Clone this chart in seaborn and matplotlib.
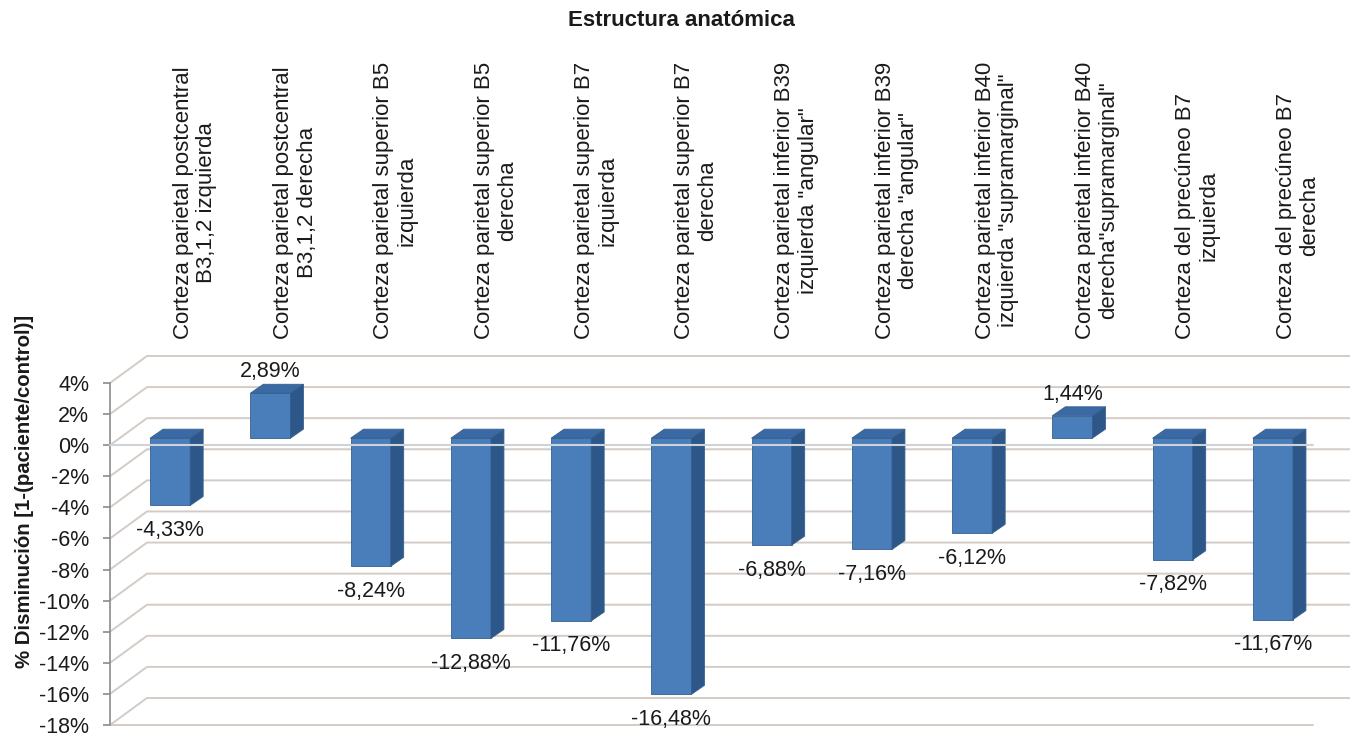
import matplotlib
matplotlib.use("Agg")
import matplotlib.pyplot as plt
import numpy as np
import pandas as pd
import seaborn as sns
from matplotlib.patches import Polygon
from matplotlib.transforms import ScaledTranslation

# ---- data -------------------------------------------------------------
categories = [
    "Corteza parietal postcentral\nB3,1,2 izquierda",
    "Corteza parietal postcentral\nB3,1,2 derecha",
    "Corteza parietal superior B5\nizquierda",
    "Corteza parietal superior B5\nderecha",
    "Corteza parietal superior B7\nizquierda",
    "Corteza parietal superior B7\nderecha",
    "Corteza parietal inferior B39\nizquierda \"angular\"",
    "Corteza parietal inferior B39\nderecha \"angular\"",
    "Corteza parietal inferior B40\nizquierda \"supramarginal\"",
    "Corteza parietal inferior B40\nderecha\"supramarginal\"",
    "Corteza del precúneo B7\nizquierda",
    "Corteza del precúneo B7\nderecha",
]
values = [-4.33, 2.89, -8.24, -12.88, -11.76, -16.48,
          -6.88, -7.16, -6.12, 1.44, -7.82, -11.67]
y_ticks = [4, 2, 0, -2, -4, -6, -8, -10, -12, -14, -16, -18]

title = "Estructura anatómica"
y_label = "% Disminución [1-(paciente/control)]"

# ---- style ------------------------------------------------------------
sns.set_theme(style="white")
plt.rcParams["font.family"] = ["Liberation Sans", "DejaVu Sans"]

FRONT = "#4a7ebb"
SIDE = "#2d5788"
TOP = "#3b69a3"
EDGE = "#34608f"
GRID = "#d3cbc6"
AXIS = "#8a8a8a"

W, H, DPI = 1352, 736, 100
fig = plt.figure(figsize=(W / DPI, H / DPI), dpi=DPI, facecolor="white")
ax = fig.add_axes([110 / W, 11 / H, 1203 / W, 342 / H])
ax.patch.set_alpha(0)

df = pd.DataFrame({"estructura": categories, "valor": values})
sns.barplot(data=df, x="estructura", y="valor", width=0.4, color=FRONT,
            saturation=1, ax=ax, zorder=3, edgecolor=EDGE, linewidth=0.6)

n = len(categories)
ax.set_xlim(-0.5, n - 0.5)
ax.set_ylim(min(y_ticks), max(y_ticks))

# pixel -> data unit conversion for the pseudo-3D depth offsets
ux = (1203 / n)
uy = (342 / (max(y_ticks) - min(y_ticks)))


def px(dx, dy):
    return dx / ux, dy / uy


# offsets (pixels, right / up)
bx, by = px(10, 7)      # bar front plane relative to front axis plane
dx, dy = px(13, 9)      # bar depth
wx, wy = px(37, 27)     # back wall depth

# back wall gridlines with the left-wall diagonals
x_left, x_right = -0.5, n - 0.5
for v in y_ticks:
    ax.plot([x_left, x_left + wx, x_right + wx], [v, v + wy, v + wy],
            color=GRID, lw=1.4, zorder=1, clip_on=False, solid_capstyle="butt")
# floor front edge
ax.plot([x_left, x_right], [min(y_ticks)] * 2, color=GRID, lw=1.4,
        zorder=1, clip_on=False)

# extrude every bar: shift the front face and add side/top faces
shift = ScaledTranslation(10 / DPI, 7 / DPI, fig.dpi_scale_trans)
for patch in ax.patches[:n]:
    x0 = patch.get_x()
    w = patch.get_width()
    y = patch.get_y()
    h = patch.get_height()
    y0, y1 = min(y, y + h), max(y, y + h)
    patch.set_transform(ax.transData + shift)
    xl, xr = x0 + bx, x0 + w + bx
    yb, yt = y0 + by, y1 + by
    side = Polygon([(xr, yt), (xr, yb), (xr + dx, yb + dy), (xr + dx, yt + dy)],
                   closed=True, facecolor=SIDE, edgecolor=EDGE, lw=0.6,
                   zorder=3, clip_on=False)
    top = Polygon([(xl, yt), (xr, yt), (xr + dx, yt + dy), (xl + dx, yt + dy)],
                  closed=True, facecolor=TOP, edgecolor=EDGE, lw=0.6,
                  zorder=3, clip_on=False)
    ax.add_patch(side)
    ax.add_patch(top)

# category axis line at zero, drawn across the bars
ax.plot([x_left, x_right], [0, 0], color="#cfd3d8", lw=1.5, zorder=4,
        clip_on=False)

# value labels
for i, v in enumerate(values):
    txt = f"{v:.2f}".replace(".", ",") + "%"
    if v < 0:
        ty = v + by - 25 / uy
    else:
        ty = v + by + 21.5 / uy
    ax.text(i + bx, ty, txt, ha="center", va="center", fontsize=15.5,
            color="#1a1a1a", zorder=5, clip_on=False)

# category labels above the plot
for i, name in enumerate(categories):
    ax.text(i + 35 / ux, max(y_ticks) + 44 / uy, name, rotation=90,
            ha="center", va="bottom", multialignment="center",
            fontsize=16, color="#1a1a1a", linespacing=1.15, clip_on=False)

# axes
ax.set_yticks(y_ticks)
ax.set_yticklabels([f"{t}%" for t in y_ticks])
ax.set_xticks([])
ax.set_xlabel("")
ax.set_ylabel("")
for s in ["top", "right", "bottom"]:
    ax.spines[s].set_visible(False)
ax.spines["left"].set_color(AXIS)
ax.spines["left"].set_linewidth(1.2)
ax.tick_params(axis="y", which="major", left=True, direction="out", length=5,
               width=1.2, color=AXIS, pad=10, labelsize=15.5, labelcolor="#1a1a1a")
ax.grid(False)

fig.text(681 / W, 1 - 21 / H, title, ha="center", va="center",
         fontsize=16, fontweight="bold", color="#1a1a1a")
fig.text(25 / W, 1 - 491 / H, y_label, rotation=90, ha="center", va="center",
         fontsize=14.7, fontweight="bold", color="#1a1a1a")

fig.savefig("out.png", dpi=DPI, facecolor="white")
